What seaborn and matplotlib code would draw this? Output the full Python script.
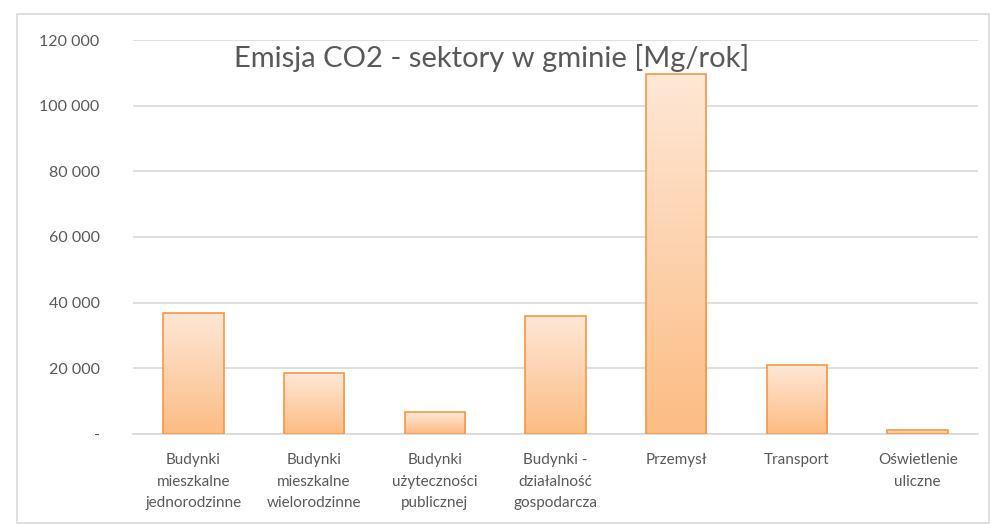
import numpy as np
import pandas as pd
import matplotlib
matplotlib.use("Agg")
import matplotlib.pyplot as plt
from matplotlib.colors import LinearSegmentedColormap
from matplotlib.patches import Rectangle
from matplotlib.ticker import FuncFormatter
import seaborn as sns

# --- dane ---
sectors = [
    "Budynki\nmieszkalne\njednorodzinne",
    "Budynki\nmieszkalne\nwielorodzinne",
    "Budynki\nużyteczności\npublicznej",
    "Budynki -\ndziałalność\ngospodarcza",
    "Przemysł",
    "Transport",
    "Oświetlenie\nuliczne",
]
emission = [36900, 18500, 6700, 36000, 109700, 21000, 1200]
y_ticks = [0, 20000, 40000, 60000, 80000, 100000, 120000]

title = "Emisja CO2 - sektory w gminie [Mg/rok]"

df = pd.DataFrame({"sektor": sectors, "emisja": emission})

# --- styl ---
sns.set_style("white")
plt.rcParams["font.family"] = ["Lato", "DejaVu Sans"]
txt_color = "#595959"
grid_color = "#D9D9D9"
edge_color = "#F79646"

fig = plt.figure(figsize=(9.91, 5.26), dpi=100)
ax = fig.add_axes([133 / 991, 1 - 434 / 526, (978 - 133) / 991, (434 - 40) / 526])

sns.barplot(data=df, x="sektor", y="emisja", ax=ax, width=0.5,
            color="#FCCB9F", edgecolor=edge_color, linewidth=1.2,
            saturation=1, zorder=3)

# gradient w slupkach (jasny u gory, ciemniejszy u dolu)
cmap = LinearSegmentedColormap.from_list("grad", ["#FCBC84", "#FEE8D7"])
grad = np.linspace(0, 1, 256).reshape(-1, 1)
for p in ax.patches:
    x0, y0 = p.get_x(), p.get_y()
    w, h = p.get_width(), p.get_height()
    img = ax.imshow(grad, cmap=cmap, aspect="auto", origin="lower",
                    extent=[x0, x0 + w, y0, y0 + h], zorder=3.5,
                    interpolation="bilinear")
    img.set_clip_path(p)
    p.set_facecolor("none")
    p.set_zorder(4)

ax.set_xlim(-0.5, len(sectors) - 0.5)
ax.set_ylim(0, 120000)
ax.set_yticks(y_ticks)
ax.yaxis.set_major_formatter(FuncFormatter(
    lambda v, pos: "-" if v == 0 else f"{int(v):,}".replace(",", " ")))
ax.grid(axis="y", color=grid_color, linewidth=1.2, zorder=0)
ax.set_axisbelow(True)
for s in ["top", "right", "left"]:
    ax.spines[s].set_visible(False)
ax.spines["bottom"].set_color(grid_color)
ax.spines["bottom"].set_linewidth(1.2)
ax.tick_params(axis="both", length=0, colors=txt_color)
ax.tick_params(axis="y", pad=24, labelsize=11.5)
ax.tick_params(axis="x", pad=14, labelsize=11)
ax.set_xlabel("")
ax.set_ylabel("")
for lab in ax.get_xticklabels():
    lab.set_ha("center")
    lab.set_multialignment("center")
    lab.set_linespacing(1.65)

fig.text(492 / 991, 1 - 58 / 526, title, ha="center", va="center",
         fontsize=21, color=txt_color)

# ramka wykresu
fig.patches.append(Rectangle((17 / 991, 1 - 523 / 526), (989 - 17) / 991, (523 - 14) / 526,
                             transform=fig.transFigure, fill=False,
                             edgecolor=grid_color, linewidth=1.2))

fig.savefig("out.png", dpi=100)
